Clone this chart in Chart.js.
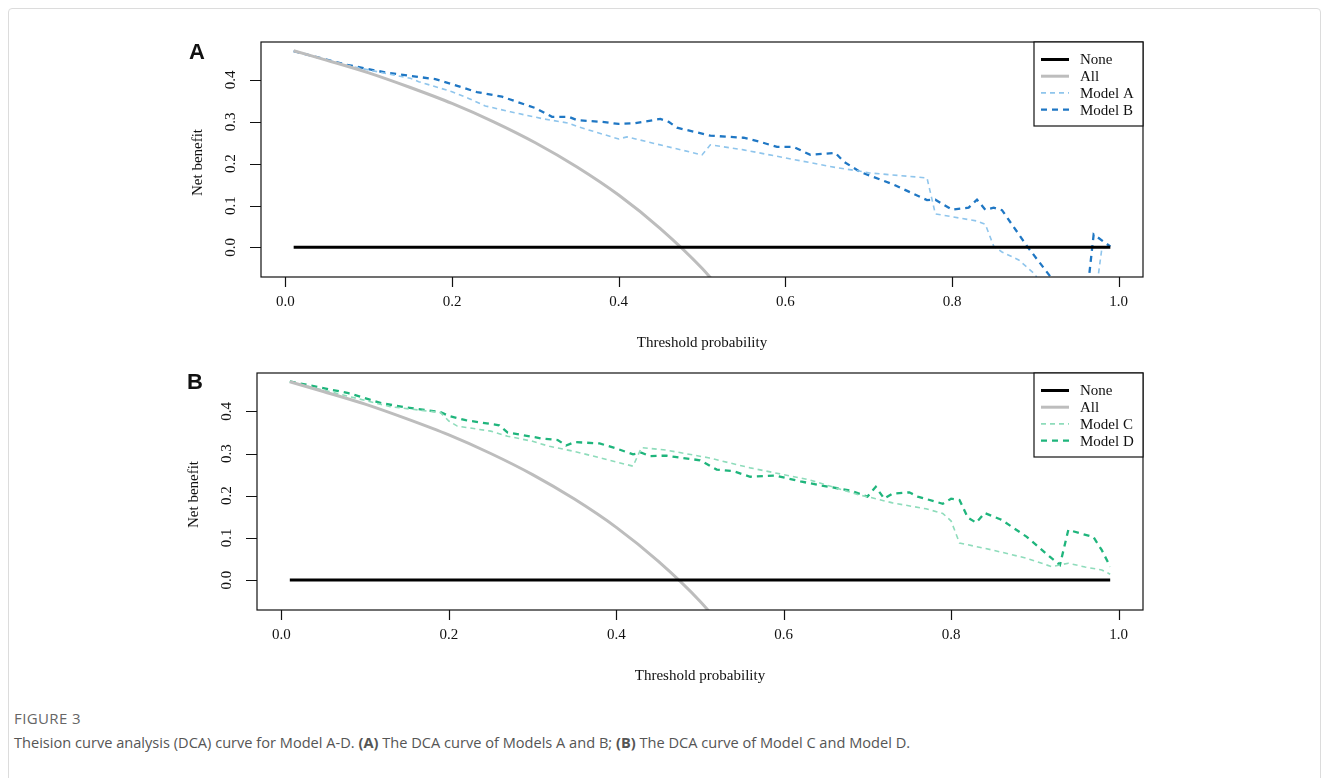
<!DOCTYPE html>
<html>
<head>
<meta charset="utf-8">
<script src="https://cdn.jsdelivr.net/npm/chart.js@4.4.1/dist/chart.umd.min.js"></script>
<style>
  body { margin: 0; background: #fff; width: 1328px; height: 778px; overflow: hidden; position: relative; }
  .frame { position: absolute; left: 8px; top: 8px; width: 1311px; height: 800px; border: 1px solid #dcdcdc; border-radius: 4px; }
  canvas { position: absolute; left: 0; }
  #chartA { top: 0; }
  #chartB { top: 360px; }
  .fig { position: absolute; left: 14px; top: 708px; font: 15px "Open Sans", sans-serif; color: #666; letter-spacing: 0.4px; }
  .cap { position: absolute; left: 14px; top: 732px; font: 14.6px "Open Sans", sans-serif; color: #555; white-space: nowrap; }
</style>
</head>
<body>
<div class="frame"></div>
<canvas id="chartA" width="1328" height="360"></canvas>
<canvas id="chartB" width="1328" height="340"></canvas>
<div class="fig">FIGURE 3</div>
<div class="cap">Theision curve analysis (DCA) curve for Model A-D. <b>(A)</b> The DCA curve of Models A and B; <b>(B)</b> The DCA curve of Model C and Model D.</div>

<script>
// ---- data ----
const xTicks = [0, 0.2, 0.4, 0.6, 0.8, 1.0];
const yTicks = [0, 0.1, 0.2, 0.3, 0.4];

const noneX = [0.01, 0.99];
const noneY = [0, 0];

// treat-all curve (same in both panels)
const allX = [0.01, 0.05, 0.10, 0.15, 0.20, 0.25, 0.30, 0.35, 0.40, 0.45, 0.50, 0.55];
const allY = [0.470, 0.447, 0.417, 0.382, 0.344, 0.300, 0.250, 0.192, 0.125, 0.045, -0.050, -0.167];

// panel A
const modelAX = [0.01, 0.08, 0.15, 0.16, 0.20, 0.22, 0.24, 0.27, 0.31, 0.34, 0.35, 0.40, 0.41, 0.50, 0.51, 0.55, 0.61, 0.66, 0.69, 0.70, 0.77, 0.78, 0.83, 0.84, 0.85, 0.86, 0.88, 0.90, 0.92, 0.97, 0.98, 0.99];
const modelAY = [0.469, 0.432, 0.404, 0.396, 0.372, 0.356, 0.338, 0.324, 0.307, 0.297, 0.289, 0.259, 0.264, 0.221, 0.245, 0.233, 0.210, 0.191, 0.182, 0.178, 0.166, 0.080, 0.063, 0.055, 0.003, -0.011, -0.030, -0.065, -0.150, -0.150, 0.000, 0.000];

const modelBX = [0.01, 0.07, 0.12, 0.18, 0.20, 0.23, 0.26, 0.30, 0.32, 0.34, 0.35, 0.38, 0.40, 0.42, 0.45, 0.46, 0.47, 0.51, 0.55, 0.57, 0.59, 0.61, 0.63, 0.66, 0.67, 0.69, 0.73, 0.77, 0.78, 0.80, 0.82, 0.83, 0.84, 0.85, 0.86, 0.89, 0.92, 0.94, 0.96, 0.97, 0.99];
const modelBY = [0.469, 0.438, 0.418, 0.402, 0.390, 0.371, 0.360, 0.333, 0.312, 0.312, 0.304, 0.300, 0.295, 0.297, 0.307, 0.300, 0.286, 0.267, 0.262, 0.252, 0.240, 0.240, 0.221, 0.226, 0.205, 0.180, 0.150, 0.113, 0.114, 0.090, 0.095, 0.114, 0.090, 0.095, 0.089, 0.003, -0.075, -0.150, -0.150, 0.031, 0.002];

// panel B
const modelCX = [0.01, 0.13, 0.19, 0.20, 0.21, 0.25, 0.27, 0.30, 0.32, 0.35, 0.42, 0.43, 0.46, 0.51, 0.56, 0.63, 0.69, 0.71, 0.73, 0.77, 0.79, 0.80, 0.81, 0.85, 0.89, 0.92, 0.94, 0.96, 0.98, 0.99];
const modelCY = [0.470, 0.411, 0.397, 0.377, 0.365, 0.353, 0.341, 0.329, 0.317, 0.305, 0.270, 0.314, 0.308, 0.290, 0.266, 0.238, 0.202, 0.193, 0.183, 0.169, 0.158, 0.140, 0.088, 0.071, 0.052, 0.032, 0.040, 0.031, 0.024, 0.014];

const modelDX = [0.01, 0.04, 0.08, 0.11, 0.12, 0.15, 0.19, 0.20, 0.22, 0.26, 0.27, 0.31, 0.33, 0.34, 0.35, 0.38, 0.40, 0.42, 0.43, 0.44, 0.46, 0.47, 0.50, 0.52, 0.54, 0.56, 0.59, 0.62, 0.64, 0.68, 0.70, 0.71, 0.72, 0.73, 0.75, 0.76, 0.79, 0.80, 0.81, 0.82, 0.83, 0.84, 0.86, 0.89, 0.92, 0.93, 0.94, 0.97, 0.98, 0.99];
const modelDY = [0.471, 0.459, 0.443, 0.425, 0.419, 0.409, 0.398, 0.389, 0.379, 0.367, 0.350, 0.336, 0.332, 0.319, 0.327, 0.324, 0.312, 0.298, 0.302, 0.294, 0.295, 0.292, 0.284, 0.262, 0.258, 0.245, 0.248, 0.234, 0.226, 0.212, 0.198, 0.221, 0.193, 0.205, 0.208, 0.198, 0.181, 0.193, 0.190, 0.148, 0.136, 0.159, 0.143, 0.103, 0.052, 0.036, 0.119, 0.102, 0.071, 0.032];

function pts(xs, ys) {
  return xs.map(function (x, i) { return { x: x, y: ys[i] }; });
}

// R-style box, axes, titles and legend drawn from the chart's own scales
const rStyle = {
  id: 'rStyle',
  afterDraw(chart, args, opts) {
    const ctx = chart.ctx, a = chart.chartArea;
    const xs = chart.scales.x, ys = chart.scales.y;
    ctx.save();
    ctx.strokeStyle = '#111';
    ctx.lineWidth = 1.2;
    ctx.strokeRect(a.left, a.top, a.right - a.left, a.bottom - a.top);

    // ticks
    ctx.beginPath();
    xTicks.forEach(function (v) {
      const px = Math.round(xs.getPixelForValue(v)) + 0.5;
      ctx.moveTo(px, a.bottom); ctx.lineTo(px, a.bottom + 10);
    });
    yTicks.forEach(function (v) {
      const py = Math.round(ys.getPixelForValue(v)) + 0.5;
      ctx.moveTo(a.left, py); ctx.lineTo(a.left - 11, py);
    });
    ctx.stroke();

    ctx.fillStyle = '#111';
    ctx.font = '15px "Liberation Serif", serif';
    ctx.textAlign = 'center';
    ctx.textBaseline = 'middle';
    xTicks.forEach(function (v) {
      ctx.fillText(v.toFixed(1), xs.getPixelForValue(v), a.bottom + 25);
    });
    ctx.fillText('Threshold probability', (a.left + a.right) / 2, a.bottom + 66);

    yTicks.forEach(function (v) {
      ctx.save();
      ctx.translate(a.left - 30, ys.getPixelForValue(v));
      ctx.rotate(-Math.PI / 2);
      ctx.fillText(v.toFixed(1), 0, 0);
      ctx.restore();
    });
    ctx.save();
    ctx.translate(a.left - 63, (a.top + a.bottom) / 2 + 3);
    ctx.rotate(-Math.PI / 2);
    ctx.fillText('Net benefit', 0, 0);
    ctx.restore();

    // panel letter
    ctx.font = 'bold 22px "Liberation Sans", Arial, sans-serif';
    ctx.fillText(opts.letter, opts.letterX, opts.letterY);

    // legend box in the top-right corner
    const lw = 109, lh = 84;
    const lx = a.right - lw, ly = a.top;
    ctx.fillStyle = '#fff';
    ctx.fillRect(lx, ly, lw, lh);
    ctx.strokeRect(lx, ly, lw, lh);
    ctx.font = '15px "Liberation Serif", serif';
    ctx.textAlign = 'left';
    chart.data.datasets.forEach(function (ds, i) {
      const cy = ly + 17.5 + i * 16.7;
      ctx.beginPath();
      ctx.strokeStyle = ds.borderColor;
      ctx.lineWidth = ds.borderWidth;
      ctx.setLineDash(ds.borderDash || []);
      ctx.moveTo(lx + 7, cy); ctx.lineTo(lx + 35, cy);
      ctx.stroke();
      ctx.setLineDash([]);
      ctx.fillStyle = '#111';
      ctx.fillText(ds.label, lx + 46, cy + 1);
    });
    ctx.restore();
  }
};

function makeChart(id, pad, letter, letterX, letterY, names, colors, m1x, m1y, m2x, m2y) {
  return new Chart(document.getElementById(id), {
    type: 'line',
    data: {
      datasets: [
        { label: 'None', data: pts(noneX, noneY), borderColor: '#000', borderWidth: 3 },
        { label: 'All', data: pts(allX, allY), borderColor: '#bdbdbd', borderWidth: 3, cubicInterpolationMode: 'monotone' },
        { label: names[0], data: pts(m1x, m1y), borderColor: colors[0], borderWidth: 1.6, borderDash: [5, 4] },
        { label: names[1], data: pts(m2x, m2y), borderColor: colors[1], borderWidth: 2.3, borderDash: [6, 5] }
      ]
    },
    options: {
      responsive: false,
      animation: false,
      layout: { padding: pad },
      elements: { point: { radius: 0 }, line: { fill: false } },
      datasets: { line: { clip: 0 } },
      scales: {
        x: { type: 'linear', min: -0.0292, max: 1.0292, display: false },
        y: { type: 'linear', min: -0.0708, max: 0.4908, display: false }
      },
      plugins: {
        legend: { display: false },
        tooltip: { enabled: false },
        rStyle: { letter: letter, letterX: letterX, letterY: letterY }
      }
    },
    plugins: [rStyle]
  });
}

makeChart('chartA', { left: 261, right: 1328 - 1143, top: 42, bottom: 360 - 277 }, 'A', 197, 53,
  ['Model A', 'Model B'], ['#8fc5ec', '#1f77c4'], modelAX, modelAY, modelBX, modelBY);

makeChart('chartB', { left: 257, right: 1328 - 1143, top: 13, bottom: 340 - 250 }, 'B', 195, 23,
  ['Model C', 'Model D'], ['#8edcbb', '#1fb57c'], modelCX, modelCY, modelDX, modelDY);
</script>
</body>
</html>
